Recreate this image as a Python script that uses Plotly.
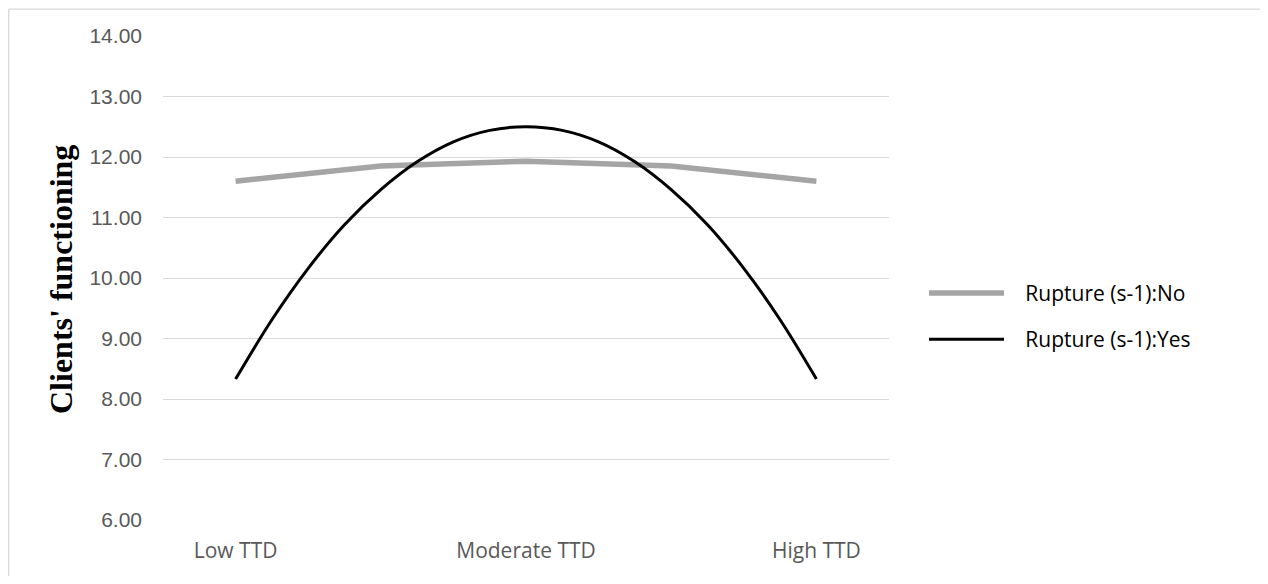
import plotly.graph_objects as go

# Data
x_pos = [0, 1, 2, 3, 4]
tick_pos = [0, 2, 4]
tick_labels = ["Low TTD", "Moderate TTD", "High TTD"]
rupture_no = [11.60, 11.85, 11.93, 11.85, 11.60]
yes_pos = [0, 0.25, 0.5, 0.75, 1, 1.25, 1.5, 1.75, 2,
           2.25, 2.5, 2.75, 3, 3.25, 3.5, 3.75, 4]
rupture_yes = [8.33, 9.31, 10.16, 10.88, 11.46, 11.92, 12.25, 12.44, 12.50,
               12.44, 12.25, 11.92, 11.46, 10.88, 10.16, 9.31, 8.33]
y_ticks = [6, 7, 8, 9, 10, 11, 12, 13, 14]

W, H = 1252, 568
PL, PR, PT, PB = 155, 881, 28, 518
PW, PH = PR - PL, PB - PT
NB = "\u00a0\u00a0\u00a0"

fig = go.Figure()
fig.add_trace(go.Scatter(
    x=x_pos, y=rupture_no, mode="lines", name=NB + "Rupture (s-1):No",
    line=dict(color="#A5A5A5", width=5.5), legendgroup="a",
))
fig.add_trace(go.Scatter(
    x=yes_pos, y=rupture_yes, mode="lines", name=NB + "Rupture (s-1):Yes",
    line=dict(color="#000000", width=3, shape="spline", smoothing=1.0),
    legendgroup="b",
))

border = dict(color="#D9D9D9", width=1.3)
x_left = (0.7 - PL) / PW
y_top = (PB - 0.7) / PH

fig.update_layout(
    width=W, height=H,
    margin=dict(l=PL, r=W - PR, t=PT, b=H - PB),
    paper_bgcolor="white", plot_bgcolor="white",
    font=dict(family="Open Sans", size=21, color="#595959"),
    showlegend=True,
    legend=dict(
        x=1 + (916 - PR) / PW, xref="paper", xanchor="left",
        y=0.421, yanchor="middle",
        font=dict(family="Open Sans", size=21, color="#000000"),
        itemwidth=75, traceorder="grouped", tracegroupgap=16,
        bgcolor="rgba(0,0,0,0)",
    ),
    xaxis=dict(
        range=[-0.5, 4.5], tickmode="array", tickvals=tick_pos,
        ticktext=tick_labels, showgrid=False, zeroline=False,
        showline=False, ticks="", ticklabelstandoff=16,
        tickfont=dict(family="Open Sans", size=21, color="#595959"),
    ),
    yaxis=dict(
        range=[6, 14], tickmode="array", tickvals=y_ticks,
        tickformat=".2f", showgrid=True, gridcolor="#D9D9D9", gridwidth=1.3,
        zeroline=False, showline=False, ticks="", ticklabelstandoff=20,
        tickfont=dict(family="Liberation Sans", size=21, color="#595959"),
    ),
    annotations=[dict(
        text="<b>Clients' functioning</b>", textangle=-90,
        xref="paper", yref="paper", x=0, y=0.5, xanchor="center",
        yanchor="middle", xshift=53 - PL, yshift=-2, showarrow=False,
        font=dict(family="Liberation Serif", size=32, color="#000000"),
    )],
    shapes=[
        dict(type="line", xref="paper", yref="paper",
             x0=x_left, x1=x_left, y0=-0.3, y1=y_top, line=border, layer="below"),
        dict(type="line", xref="paper", yref="paper",
             x0=x_left, x1=1.6, y0=y_top, y1=y_top, line=border, layer="below"),
    ],
)

fig.write_html("out.html")
